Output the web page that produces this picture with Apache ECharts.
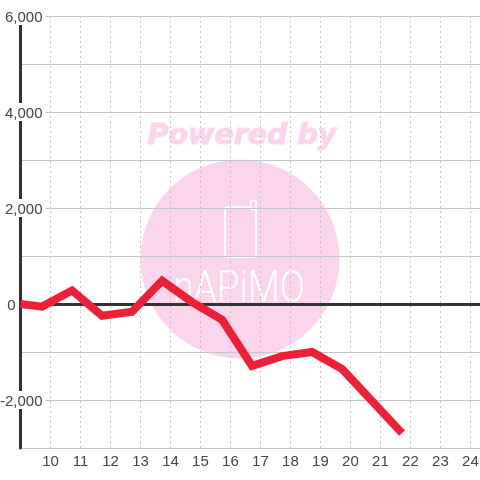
<!DOCTYPE html>
<html>
<head>
<meta charset="utf-8">
<style>
	html, body { margin: 0; padding: 0; background: #fff; }
	#chart { width: 480px; height: 480px; }
</style>
<script src="https://cdn.jsdelivr.net/npm/echarts@6/dist/echarts.min.js"></script>
</head>
<body>
<div id="chart"></div>
<script>
	var hours = [9, 9.72, 10.72, 11.72, 12.72, 13.72, 14.72, 15.72, 16.72, 17.72, 18.72, 19.72, 20.72, 21.72];
	var values = [0, -55, 280, -245, -160, 485, 40, -330, -1290, -1085, -1000, -1355, -2020, -2690];
	var hourTicks = [10, 11, 12, 13, 14, 15, 16, 17, 18, 19, 20, 21, 22, 23, 24];
	var labelledValues = [6000, 4000, 2000, -2000];

	var chart = echarts.init(document.getElementById('chart'), null, { renderer: 'canvas' });
	var textColor = '#444';
	var fontFamily = '"Liberation Sans", Arial, sans-serif';
	var pink = '#fbd5ec';

	var chartOption = {
		animation: false,
		backgroundColor: '#fff',
		grid: { left: 20.5, right: 0, top: 16, bottom: 32, containLabel: false, outerBoundsMode: 'none' },
		graphic: [
			{
				type: 'circle', z: -10, silent: true,
				shape: { cx: 240, cy: 259, r: 99.5 },
				style: { fill: pink }
			},
			{
				type: 'text', z: -10, silent: true, x: 242, y: 136.5,
				style: {
					text: 'Powered by',
					fill: pink,
					stroke: pink,
					lineWidth: 1,
					font: 'italic bold 28.5px "DejaVu Sans"',
					align: 'center',
					verticalAlign: 'middle'
				}
			},
			{
				type: 'rect', z: -9, silent: true,
				shape: { x: 225, y: 207, width: 31, height: 50, r: 3 },
				style: { fill: 'none', stroke: '#fff', lineWidth: 2 }
			},
			{
				type: 'rect', z: -9, silent: true,
				shape: { x: 250.5, y: 200.5, width: 5.5, height: 9, r: 2.7 },
				style: { fill: pink, stroke: '#fff', lineWidth: 2 }
			},
			{
				type: 'text', z: -9, silent: true, x: 239, y: 291, scaleY: 1.2,
				style: {
					text: 'nAPiMO',
					fill: '#fff',
					font: '300 37px Roboto',
					align: 'center',
					verticalAlign: 'middle'
				}
			}
		],
		xAxis: {
			type: 'value',
			min: 9,
			max: 24.32,
			interval: 1,
			axisLine: { onZero: false, show: false },
			axisTick: { show: false },
			splitLine: { show: true, lineStyle: { color: '#c4c4c4', type: [2, 3], width: 1 } },
			axisLabel: {
				color: textColor,
				fontSize: 15,
				fontFamily: fontFamily,
				margin: 6,
				showMinLabel: false,
				hideOverlap: false,
				formatter: function(v) {
					return hourTicks.indexOf(v) >= 0 ? String(v) : '';
				}
			}
		},
		yAxis: {
			type: 'value',
			min: -3000,
			max: 6000,
			interval: 1000,
			axisLine: { show: true, onZero: false, lineStyle: { color: '#333', width: 3 } },
			axisTick: { show: false },
			splitLine: { show: true, lineStyle: { color: '#c6c6c6', width: 1 } },
			axisLabel: {
				color: textColor,
				fontSize: 15,
				fontFamily: fontFamily,
				margin: -25,
				formatter: function(v) {
					if(v === 0) return '{zero|0}';
					if(labelledValues.indexOf(v) >= 0) return '{num|' + v.toLocaleString('en-US') + '}';
					return '';
				},
				rich: {
					num: { color: textColor, fontSize: 15, fontFamily: fontFamily, backgroundColor: '#fff', padding: [3, 3, 0, 2], lineHeight: 15 },
					zero: { color: textColor, fontSize: 15, fontFamily: fontFamily, padding: [3, 30, 0, 0], lineHeight: 15 }
				}
			}
		},
		series: [{
			type: 'line',
			data: hours.map(function(h, i) { return [h, values[i]]; }),
			showSymbol: false,
			clip: false,
			z: 5,
			lineStyle: { color: '#ee2038', width: 8, join: 'miter' },
			markLine: {
				silent: true,
				symbol: 'none',
				z: 3,
				label: { show: false },
				lineStyle: { color: '#333', width: 3, type: 'solid' },
				data: [{ yAxis: 0 }]
			}
		}]
	};
	chart.setOption(chartOption);
</script>
</body>
</html>
